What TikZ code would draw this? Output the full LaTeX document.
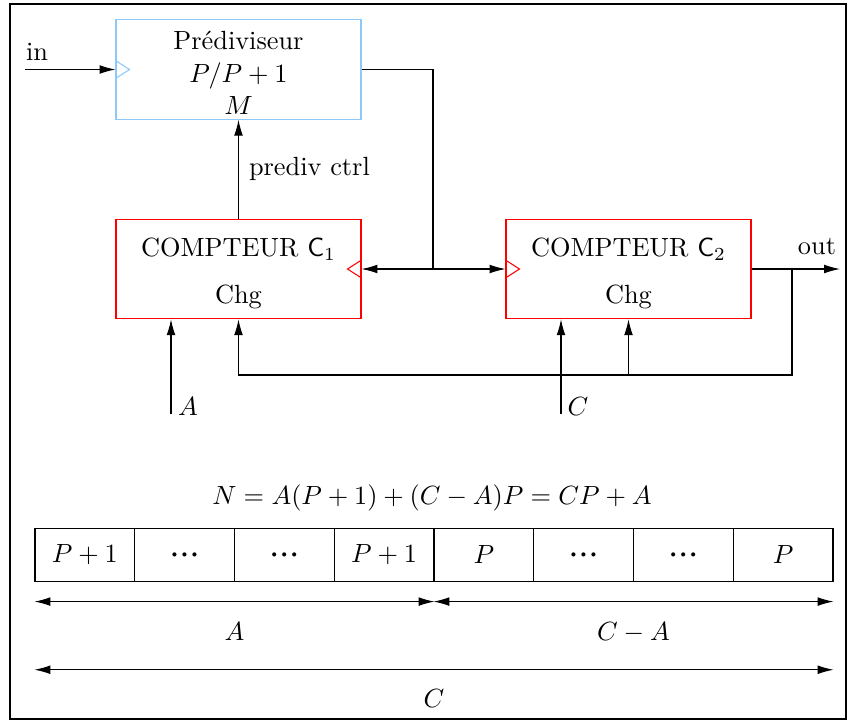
\documentclass[tikz,border=0pt]{standalone}
\usepackage{tikz}
\usetikzlibrary{arrows.meta,positioning}
\definecolor{predivblue}{RGB}{140,200,250}
\newcommand{\celldots}{{\boldmath$\cdot\!\cdot\!\cdot$}}

\begin{document}
\begin{tikzpicture}[
    x=0.38pt, y=-0.38pt,
    >={Latex[length=6pt,width=3.3pt]},
    every node/.style={inner sep=0pt},
    block/.style={
        draw,
        minimum width=93.1pt,
        minimum height=37.8pt
    },
    cell/.style={
        draw,
        minimum width=37.9pt,
        minimum height=20.4pt
    }
]
\useasboundingbox (0,0) rectangle (849,722);
\draw[line width=1.1pt] (10,4) rectangle (846,719);

\node[block, draw=predivblue] (prediv) at (238.5,69.5) {};
\node (predivname) at (238.5,40) {Prédiviseur};
\node (predivratio) at (238.5,76) {$P/P+1$};
\node (predivm) at (238.5,106) {$M$};
\draw[predivblue] (prediv.west) ++(0,-9) -- ++(14,9) -- ++(-14,9);

\node[block, draw=red] (cnt1) at (238.5,269) {};
\node (cnt1name) at (238.5,249) {COMPTEUR $\mathsf{C}_1$};
\node (cnt1chg) at (238.5,297) {Chg};
\draw[red] (cnt1.east) ++(0,-9) -- ++(-14,9) -- ++(14,9);

\node[block, draw=red] (cnt2) at (628.5,269) {};
\node (cnt2name) at (628.5,249) {COMPTEUR $\mathsf{C}_2$};
\node (cnt2chg) at (628.5,297) {Chg};
\draw[red] (cnt2.west) ++(0,-9) -- ++(14,9) -- ++(-14,9);

\coordinate (inpt) at (25,69.5);
\node (inlbl) at (37,52) {in};
\draw[->] (inpt) -- (prediv.west);

\coordinate (split) at (433,269);
\draw (prediv.east) -| (split);
\draw[->] (split) -- (cnt1.east);
\draw[->] (split) -- (cnt2.west);

\draw[->] (cnt1.north) -- (prediv.south)
    node[midway, right=3.8pt] (ctrllbl) {prediv ctrl};

\coordinate (outend) at (840,269);
\node (outlbl) at (817,247) {out};
\draw[->] (cnt2.east) -- (outend);

\coordinate (fbtop) at (792,269);
\coordinate (fbcorner) at (792,375);
\draw[->] (fbtop) |- (cnt1.south |- fbcorner) -- (cnt1.south);
\draw[->] (cnt2.south |- fbcorner) -- (cnt2.south);

\coordinate (ain) at (171,414);
\draw[->] (ain) -- (ain |- cnt1.south);
\node (albl) at (188,407) {$A$};
\coordinate (cin) at (561,414);
\draw[->] (cin) -- (cin |- cnt2.south);
\node (clbl) at (578,407) {$C$};

\node (eqn) at (432,498) {$N=A(P+1)+(C-A)P=CP+A$};

\foreach \lab [count=\i] in {$P+1$,\celldots,\celldots,$P+1$,$P$,\celldots,\celldots,$P$}
    \node[cell] (cell\i) at (99.75*\i-14.875,555) {\lab};

\draw[<->] ([yshift=-7.3pt]cell1.south west) -- ([yshift=-7.3pt]cell4.south east)
    node[midway, below=7.6pt] (dimA) {$A$};
\draw[<->] ([yshift=-7.3pt]cell5.south west) -- ([yshift=-7.3pt]cell8.south east)
    node[midway, below=7.6pt] (dimCA) {$C-A$};
\draw[<->] ([yshift=-33.2pt]cell1.south west) -- ([yshift=-33.2pt]cell8.south east)
    node[midway, below=7.2pt] (dimC) {$C$};
\end{tikzpicture}
\end{document}
